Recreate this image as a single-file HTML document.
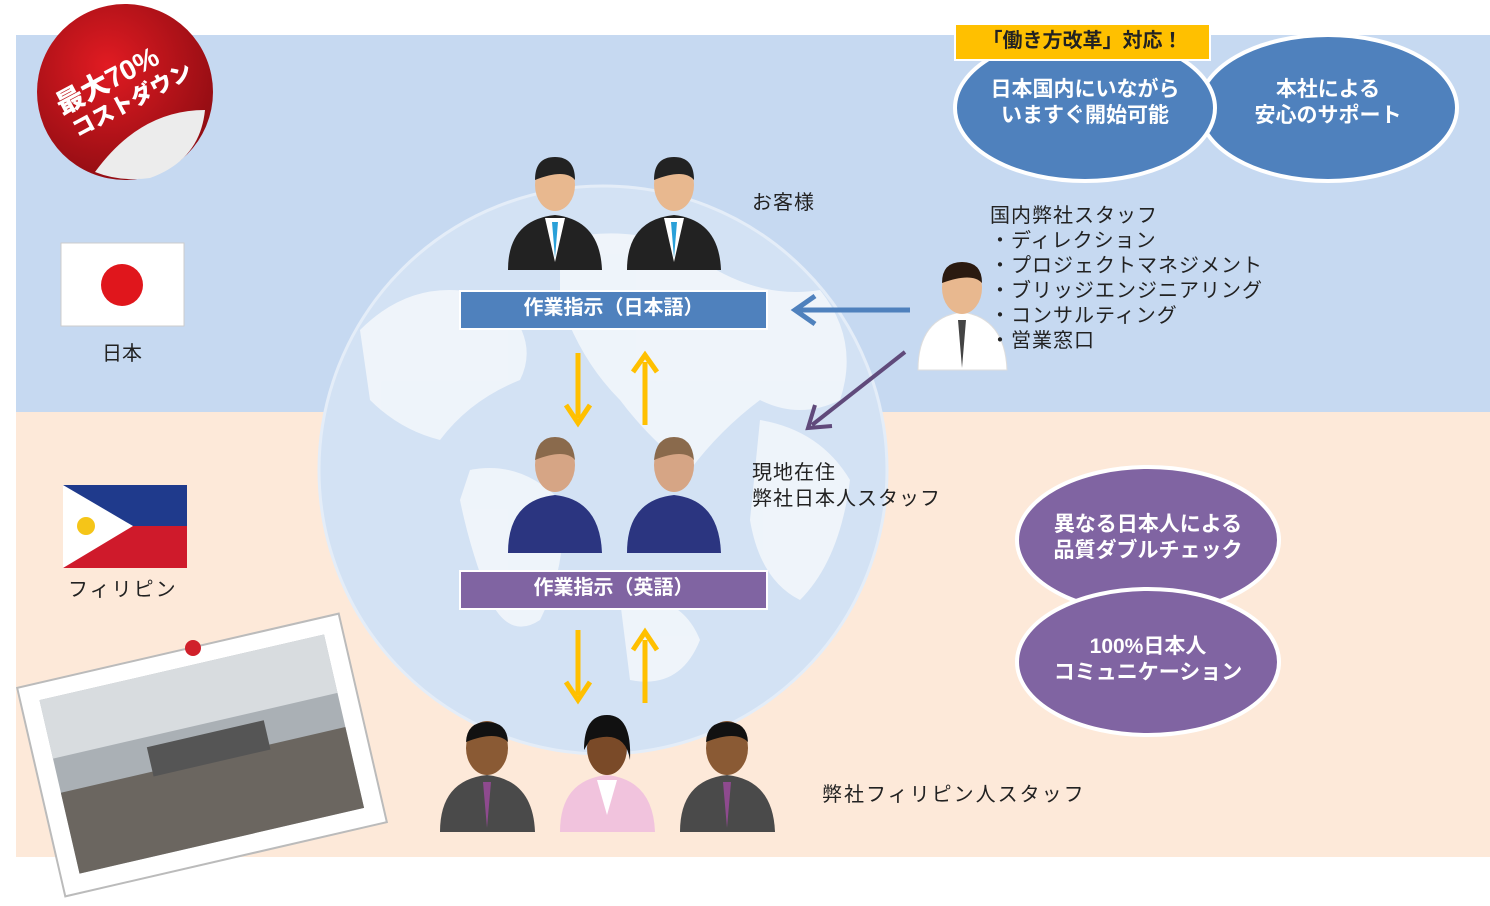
<!DOCTYPE html>
<html><head><meta charset="utf-8"><style>
body{margin:0;width:1490px;height:906px;position:relative;overflow:hidden;background:#fff;font-family:"Liberation Sans","Noto Sans CJK JP",sans-serif;}
.t{position:absolute;font-size:20px;color:#222;line-height:25px;white-space:nowrap;}
</style></head><body>
<svg width="1490" height="906" style="position:absolute;left:0;top:0">
<defs>
<radialGradient id="rg" cx="40%" cy="35%" r="70%"><stop offset="0" stop-color="#e11b22"/><stop offset="1" stop-color="#8e0c12"/></radialGradient>
</defs>
<rect x="16" y="35" width="1474" height="377" fill="#c6d9f1"/>
<rect x="16" y="412" width="1474" height="445" fill="#fde9d9"/>
<circle cx="603" cy="470" r="284" fill="#d3e2f4" stroke="#e4edf8" stroke-width="3"/>
<g fill="#f2f6fb" opacity="0.9">
<path d="M360 330 Q420 270 500 300 Q540 340 520 380 Q470 400 440 440 Q400 430 370 400 Z"/>
<path d="M560 240 Q640 220 700 260 Q760 300 820 290 Q860 340 840 400 Q800 420 760 400 Q720 430 690 470 Q650 440 620 400 Q580 360 560 300 Z"/>
<path d="M470 470 Q520 460 560 500 Q570 560 540 620 Q510 640 490 600 Q470 550 460 500 Z"/>
<path d="M760 420 Q820 430 850 480 Q840 560 800 600 Q760 580 750 520 Z"/>
<path d="M620 600 Q680 590 700 640 Q680 690 630 680 Z"/>
</g>
<circle cx="125" cy="92" r="88" fill="url(#rg)"/>
<path d="M95 172 Q140 110 205 110 Q200 160 150 178 Q120 182 95 172Z" fill="#ececec"/>
<rect x="61" y="243" width="123" height="83" fill="#fff" stroke="#ccc"/>
<circle cx="122" cy="285" r="21" fill="#e0161c"/>
<rect x="63" y="485" width="124" height="41" fill="#1f3a8c"/>
<rect x="63" y="526" width="124" height="42" fill="#cf1a2b"/>
<polygon points="63,485 133,526 63,568" fill="#fff"/>
<circle cx="86" cy="526" r="9" fill="#f5c518"/>
<ellipse cx="1328" cy="108" rx="129" ry="73" fill="#4f81bd" stroke="#fff" stroke-width="4"/>
<ellipse cx="1085" cy="108" rx="130" ry="73" fill="#4f81bd" stroke="#fff" stroke-width="4"/>
<rect x="955" y="24" width="255" height="36" fill="#ffc000" stroke="#fff" stroke-width="2"/>
<ellipse cx="1148" cy="540" rx="131" ry="73" fill="#8064a2" stroke="#fff" stroke-width="4"/>
<ellipse cx="1148" cy="662" rx="131" ry="73" fill="#8064a2" stroke="#fff" stroke-width="4"/>
<rect x="460" y="291" width="307" height="38" fill="#4f81bd" stroke="#fff" stroke-width="2"/>
<rect x="460" y="571" width="307" height="38" fill="#8064a2" stroke="#fff" stroke-width="2"/>
<g stroke="#ffc000" stroke-width="5" fill="none">
<line x1="578" y1="353" x2="578" y2="418"/><line x1="645" y1="425" x2="645" y2="362"/>
<line x1="578" y1="630" x2="578" y2="695"/><line x1="645" y1="703" x2="645" y2="640"/>
<polyline points="566,405 578,423 590,405"/><polyline points="633,372 645,355 657,372"/>
<polyline points="566,682 578,700 590,682"/><polyline points="633,650 645,632 657,650"/>
</g>
<line x1="910" y1="310" x2="796" y2="310" stroke="#4f81bd" stroke-width="5"/>
<polyline points="815,296 795,310 815,324" stroke="#4f81bd" stroke-width="5" fill="none"/>
<line x1="905" y1="352" x2="812" y2="425" stroke="#604a7b" stroke-width="4"/>
<polyline points="815,405 808,428 832,426" stroke="#604a7b" stroke-width="4" fill="none"/>
<g>
<path d="M508 270 Q508 220 555 215 Q600 220 602 270Z" fill="#222"/><path d="M545 218 L555 262 L565 218Z" fill="#fff"/><path d="M552 222 L555 258 L558 222Z" fill="#2aa0d8"/><ellipse cx="555" cy="185" rx="20" ry="26" fill="#e8b88f"/><path d="M535 180 Q535 157 555 157 Q575 157 575 180 Q565 168 535 180Z" fill="#222"/>
<path d="M627 270 Q627 220 674 215 Q719 220 721 270Z" fill="#222"/><path d="M664 218 L674 262 L684 218Z" fill="#fff"/><path d="M671 222 L674 258 L677 222Z" fill="#2aa0d8"/><ellipse cx="674" cy="185" rx="20" ry="26" fill="#e8b88f"/><path d="M654 180 Q654 157 674 157 Q694 157 694 180 Q684 168 654 180Z" fill="#222"/>
<path d="M508 553 Q508 500 555 495 Q600 500 602 553Z" fill="#2b3580"/><ellipse cx="555" cy="465" rx="20" ry="27" fill="#d6a585"/><path d="M535 460 Q537 437 555 437 Q573 437 575 460 Q565 448 535 460Z" fill="#8a6a4c"/>
<path d="M627 553 Q627 500 674 495 Q719 500 721 553Z" fill="#2b3580"/><ellipse cx="674" cy="465" rx="20" ry="27" fill="#d6a585"/><path d="M654 460 Q656 437 674 437 Q692 437 694 460 Q684 448 654 460Z" fill="#8a6a4c"/>
<path d="M918 370 Q918 318 962 312 Q1005 318 1007 370Z" fill="#fff" stroke="#ddd"/><path d="M958 320 L962 368 L966 320Z" fill="#444"/><ellipse cx="962" cy="288" rx="20" ry="26" fill="#e8b88f"/><path d="M942 283 Q942 262 962 262 Q982 262 982 283 Q972 272 942 283Z" fill="#2a1a10"/>
<path d="M440 832 Q440 780 487 775 Q533 780 535 832Z" fill="#4a4a4a"/><path d="M483 782 L487 828 L491 782Z" fill="#8e4a8e"/><ellipse cx="487" cy="748" rx="21" ry="27" fill="#8a5a34"/><path d="M466 742 Q467 722 487 722 Q507 722 508 742 Q496 730 466 742Z" fill="#111"/>
<path d="M560 832 Q560 780 607 775 Q653 780 655 832Z" fill="#f1c3dd"/><path d="M597 780 L607 815 L617 780Z" fill="#fff"/><ellipse cx="607" cy="748" rx="20" ry="27" fill="#7a4a28"/><path d="M584 750 Q584 715 607 715 Q632 715 630 760 Q625 728 590 740Z" fill="#111"/>
<path d="M680 832 Q680 780 727 775 Q773 780 775 832Z" fill="#4a4a4a"/><path d="M723 782 L727 828 L731 782Z" fill="#8e4a8e"/><ellipse cx="727" cy="748" rx="21" ry="27" fill="#8a5a34"/><path d="M706 742 Q707 722 727 722 Q747 722 748 742 Q736 730 706 742Z" fill="#111"/>
</g>
<g transform="rotate(-13 202 755)">
<rect x="37" y="648" width="330" height="214" fill="#fff" stroke="#bbb" stroke-width="2"/>
<rect x="56" y="665" width="292" height="178" fill="#aab0b5"/>
<rect x="56" y="665" width="292" height="60" fill="#d8dcdf"/>
<rect x="56" y="760" width="292" height="83" fill="#6b6660"/>
<rect x="150" y="735" width="120" height="30" fill="#555"/>
</g>
<circle cx="193" cy="648" r="8" fill="#d0202a"/>
</svg>
<div class="t" style="left:52px;top:96px;color:#fff;font-weight:900;font-size:28px;transform:rotate(-28deg);transform-origin:left top;">最大70%</div>
<div class="t" style="left:68px;top:120px;color:#fff;font-weight:900;font-size:22px;transform:rotate(-28deg);transform-origin:left top;">コストダウン</div>
<div class="t" style="left:102px;top:342px">日本</div>
<div class="t" style="left:68px;top:578px;letter-spacing:2px">フィリピン</div>
<div class="t" style="left:752px;top:191px;letter-spacing:1px">お客様</div>
<div class="t" style="left:752px;top:460px;line-height:26px;letter-spacing:1px">現地在住<br>弊社日本人スタッフ</div>
<div class="t" style="left:822px;top:783px;letter-spacing:2px">弊社フィリピン人スタッフ</div>
<div class="t" style="left:990px;top:204px;line-height:25px;letter-spacing:1px">国内弊社スタッフ<br>・ディレクション<br>・プロジェクトマネジメント<br>・ブリッジエンジニアリング<br>・コンサルティング<br>・営業窓口</div>
<div class="t" style="left:460px;width:307px;top:296px;text-align:center;color:#fff;font-weight:bold">作業指示（日本語）</div>
<div class="t" style="left:460px;width:307px;top:576px;text-align:center;color:#fff;font-weight:bold">作業指示（英語）</div>
<div class="t" style="left:955px;width:255px;top:29px;text-align:center;font-weight:bold">「働き方改革」対応！</div>
<div class="t" style="left:955px;width:260px;top:77px;text-align:center;color:#fff;font-weight:bold;font-size:21px;line-height:26px">日本国内にいながら<br>いますぐ開始可能</div>
<div class="t" style="left:1198px;width:260px;top:77px;text-align:center;color:#fff;font-weight:bold;font-size:21px;line-height:26px">本社による<br>安心のサポート</div>
<div class="t" style="left:1017px;width:262px;top:512px;text-align:center;color:#fff;font-weight:bold;font-size:21px;line-height:26px">異なる日本人による<br>品質ダブルチェック</div>
<div class="t" style="left:1017px;width:262px;top:634px;text-align:center;color:#fff;font-weight:bold;font-size:21px;line-height:26px">100%日本人<br>コミュニケーション</div>
</body></html>
